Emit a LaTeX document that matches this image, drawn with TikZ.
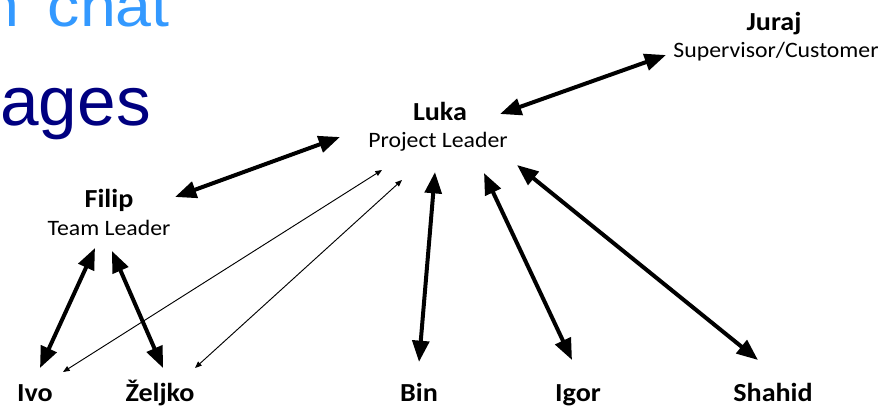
\documentclass[tikz,border=0pt]{standalone}
\usepackage{fontspec}
\setmainfont{Carlito}[FakeStretch=1.08]
\newfontfamily\slidefont{Liberation Sans}
\newfontfamily\chatfont{Liberation Sans}[WordSpace=1.6, FakeStretch=1.1]
\usetikzlibrary{arrows.meta}
\definecolor{chatblue}{HTML}{3399FF}
\definecolor{slidenavy}{HTML}{000080}

\begin{document}
\begin{tikzpicture}[x=0.75pt, y=-0.75pt,
	person/.style={anchor=base, inner sep=0pt, font=\fontsize{19.5}{20}\selectfont\bfseries},
	role/.style={anchor=base, inner sep=0pt, font=\fontsize{16.5}{18}\selectfont},
	heavylink/.style={{Triangle[length=16pt, width=12.5pt]}-{Triangle[length=16pt, width=12.5pt]}, line width=3pt},
	thinlink/.style={{Triangle[length=5pt, width=4pt]}-{Triangle[length=5pt, width=4pt]}, line width=0.7pt}
	]
			\clip (0,0) rectangle (888,408);
			% \draw[help lines, step=50] (0,0) grid (888,408);

			% slide text behind the chart
			\node[anchor=base west, inner sep=0pt, text=chatblue, font=\chatfont\fontsize{44}{44}\selectfont] (chat) at (-17,26) {n chat};
			\node[anchor=base east, inner sep=0pt, text=slidenavy, font=\slidefont\fontsize{52}{52}\selectfont] (ages) at (151,125) {ages};

			% people
			\node[person] (juraj) at (774,30) {Juraj};
			\node[role] (jurajrole) at (776,57) {Supervisor/Customer};
			\node[person] (luka) at (440,120) {Luka};
			\node[role] (lukarole) at (438,147) {Project Leader};
			\node[person] (filip) at (109,207) {Filip};
			\node[role] (filiprole) at (109,235) {Team Leader};
			\node[person] (ivo) at (35,401) {Ivo};
			\node[person] (zeljko) at (160,401) {Željko};
			\node[person] (bin) at (419,401) {Bin};
			\node[person] (igor) at (578,401) {Igor};
			\node[person] (shahid) at (773,401) {Shahid};

			% heavy links
			\draw[heavylink] ([shift={(-110,-2)}]jurajrole.base) -- ([shift={(60,-6)}]luka.base);
			\draw[heavylink] ([shift={(-100,17)}]luka.base) -- ([shift={(66,-10)}]filip.base);
			\draw[heavylink] ([shift={(-14,13)}]filiprole.base) -- ([shift={(5,-33)}]ivo.base);
			\draw[heavylink] ([shift={(3,16)}]filiprole.base) -- ([shift={(3,-33)}]zeljko.base);
			\draw[heavylink] ([shift={(-5,52)}]luka.base) -- ([shift={(0,-39)}]bin.base);
			\draw[heavylink] ([shift={(44,53)}]luka.base) -- ([shift={(-6,-41)}]igor.base);
			\draw[heavylink] ([shift={(77,45)}]luka.base) -- ([shift={(-15,-41)}]shahid.base);

			% thin links
			\draw[thinlink] ([shift={(-58,50)}]luka.base) -- ([shift={(28,-29)}]ivo.base);
			\draw[thinlink] ([shift={(-38,60)}]luka.base) -- ([shift={(35,-33)}]zeljko.base);
		\end{tikzpicture}
\end{document}
